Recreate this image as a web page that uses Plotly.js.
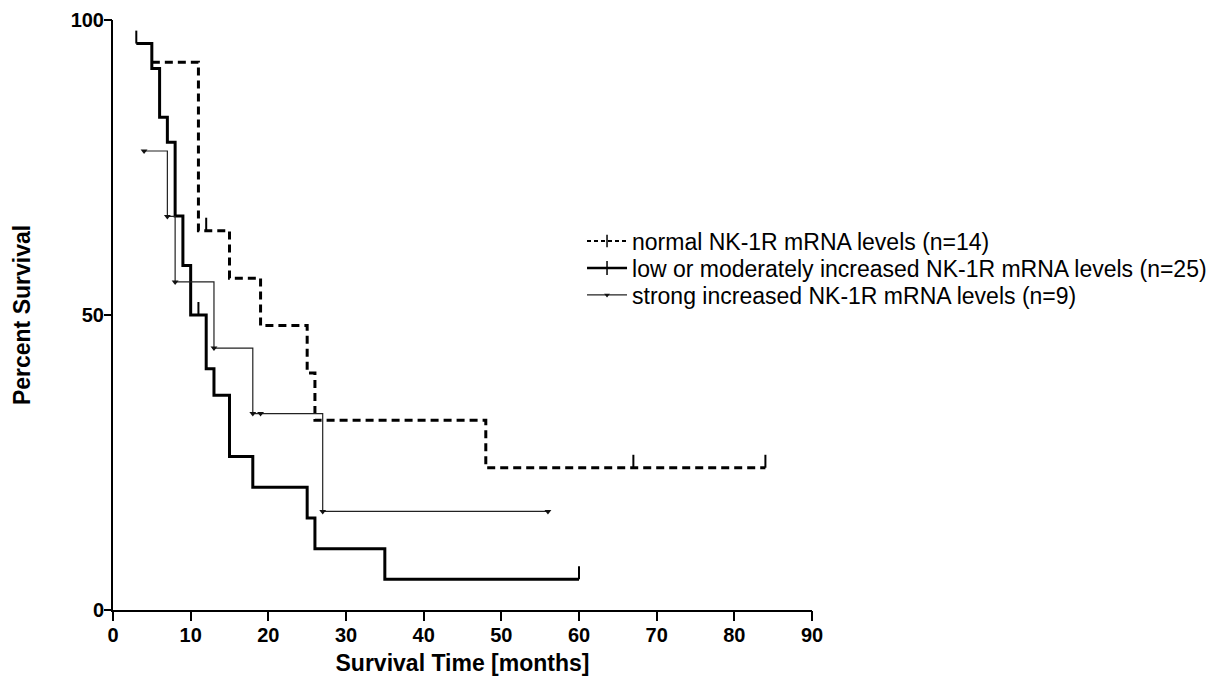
<!DOCTYPE html>
<html>
<head>
<meta charset="utf-8">
<script src="https://cdn.plot.ly/plotly-3.0.1.min.js"></script>
<style>html,body{margin:0;padding:0;background:#fff;}#chart{width:1225px;height:688px;}</style>
</head>
<body>
<div id="chart"></div>
<script>
// Normal NK-1R mRNA levels (n=14)
const normalTime = [5, 11, 15, 19, 25, 26, 48, 84];
const normalSurv = [92.86, 64.29, 56.25, 48.21, 40.18, 32.14, 24.11, 24.11];
const normalCensorTime = [12, 67, 84];
const normalCensorSurv = [64.29, 24.11, 24.11];

// Low or moderately increased NK-1R mRNA levels (n=25)
const lowTime = [3, 5, 6, 7, 8, 9, 10, 12, 13, 15, 18, 25, 26, 35, 60];
const lowSurv = [96.0, 91.8, 83.5, 79.3, 66.8, 58.4, 50.0, 40.9, 36.4, 26.0, 20.8, 15.6, 10.4, 5.2, 5.2];
const lowCensorTime = [3, 11, 60];
const lowCensorSurv = [96.0, 50.0, 5.2];

// Strong increased NK-1R mRNA levels (n=9)
const strongTime = [4, 7, 8, 13, 18, 27, 56];
const strongSurv = [77.8, 66.7, 55.6, 44.4, 33.3, 16.7, 16.7];
const strongSymbolTime = [4, 7, 8, 13, 18, 19, 27, 56];
const strongSymbolSurv = [77.8, 66.7, 55.6, 44.4, 33.3, 33.3, 16.7, 16.7];

const seriesNames = [
  'normal NK-1R mRNA levels (n=14)',
  'low or moderately increased NK-1R mRNA levels (n=25)',
  'strong increased NK-1R mRNA levels (n=9)'
];

const xTickVals = [0, 10, 20, 30, 40, 50, 60, 70, 80, 90];
const yTickVals = [0, 50, 100];
const yTickText = ['0', '50', '100'];

const TICK_H = 2.2; // censor tick height in % units (style)

function censorTicks(ts, ss) {
  const x = [], y = [];
  ts.forEach((t, i) => { x.push(t, t, null); y.push(ss[i], ss[i] + TICK_H, null); });
  return {x, y};
}

const nT = censorTicks(normalCensorTime, normalCensorSurv);
const lT = censorTicks(lowCensorTime, lowCensorSurv);

const traces = [
  {x: normalTime, y: normalSurv, mode: 'lines', line: {shape: 'hv', color: '#000', width: 3, dash: '8px,5px'}, showlegend: false, hoverinfo: 'skip'},
  {x: nT.x, y: nT.y, mode: 'lines', line: {color: '#000', width: 2}, showlegend: false, hoverinfo: 'skip'},
  {x: lowTime, y: lowSurv, mode: 'lines', line: {shape: 'hv', color: '#000', width: 3}, showlegend: false, hoverinfo: 'skip'},
  {x: lT.x, y: lT.y, mode: 'lines', line: {color: '#000', width: 2}, showlegend: false, hoverinfo: 'skip'},
  {x: strongTime, y: strongSurv, mode: 'lines', line: {shape: 'hv', color: '#222', width: 1.2}, showlegend: false, hoverinfo: 'skip'},
  {x: strongSymbolTime, y: strongSymbolSurv, mode: 'markers', marker: {symbol: 'triangle-down', size: 6, color: '#111'}, showlegend: false, hoverinfo: 'skip'},
  // invisible trace that keeps the tick-mark overlay axes alive
  {x: [null], y: [null], xaxis: 'x2', yaxis: 'y2', mode: 'lines', showlegend: false, hoverinfo: 'skip'},
  // legend entries (one legend per row for exact row spacing)
  {x: [null], y: [null], name: seriesNames[0], legend: 'legend', mode: 'lines+markers', line: {color: '#000', width: 2, dash: '4px,3px'}, marker: {symbol: 'line-ns-open', size: 9, line: {width: 1.5, color: '#000'}}},
  {x: [null], y: [null], name: seriesNames[1], legend: 'legend2', mode: 'lines+markers', line: {color: '#000', width: 2.5}, marker: {symbol: 'line-ns-open', size: 10, line: {width: 1.5, color: '#000'}}},
  {x: [null], y: [null], name: seriesNames[2], legend: 'legend3', mode: 'lines+markers', line: {color: '#222', width: 1.2}, marker: {symbol: 'triangle-down', size: 5, color: '#111'}}
];

const boldFam = '"Liberation Sans", Arial, sans-serif';
const legendFont = {family: '"Liberation Sans", Arial, sans-serif', size: 23, color: '#000'};
function legendBox(yPaper) {
  return {x: 0.671, y: yPaper, xanchor: 'left', yanchor: 'middle', font: legendFont,
          bgcolor: 'rgba(0,0,0,0)', borderwidth: 0, itemwidth: 40};
}

const layout = {
  width: 1225, height: 688,
  margin: {l: 113, r: 413, t: 20, b: 78, pad: 0},
  paper_bgcolor: '#fff', plot_bgcolor: '#fff',
  showlegend: true,
  legend: legendBox(0.6254),
  legend2: legendBox(0.5797),
  legend3: legendBox(0.5339),
  // label axes: short ticks so labels sit close to the axis line
  xaxis: {
    range: [0, 90], tickvals: xTickVals,
    showgrid: false, zeroline: false, showline: true, linecolor: '#000', linewidth: 2,
    ticks: 'outside', ticklen: 6, tickwidth: 2, tickcolor: '#000',
    tickfont: {family: boldFam, size: 20, color: '#000', weight: 'bold'},
    title: {text: 'Survival Time [months]', font: {family: boldFam, size: 23, color: '#000', weight: 'bold'}, standoff: 10},
    automargin: false, fixedrange: true
  },
  yaxis: {
    range: [0, 100], tickvals: yTickVals, ticktext: yTickText,
    showgrid: false, zeroline: false, showline: true, linecolor: '#000', linewidth: 2,
    ticks: 'outside', ticklen: 3, tickwidth: 2, tickcolor: '#000',
    tickfont: {family: boldFam, size: 20, color: '#000', weight: 'bold'},
    title: {text: 'Percent Survival', font: {family: boldFam, size: 23, color: '#000', weight: 'bold'}, standoff: 34},
    automargin: false, fixedrange: true
  },
  // overlay axes: full-length tick marks only
  xaxis2: {
    overlaying: 'x', anchor: 'y2', side: 'bottom', range: [0, 90], tickvals: xTickVals,
    showgrid: false, zeroline: false, showline: false, showticklabels: false,
    ticks: 'outside', ticklen: 10, tickwidth: 2, tickcolor: '#000', fixedrange: true
  },
  yaxis2: {
    overlaying: 'y', anchor: 'x2', side: 'left', range: [0, 100], tickvals: yTickVals,
    showgrid: false, zeroline: false, showline: false, showticklabels: false,
    ticks: 'outside', ticklen: 8, tickwidth: 2, tickcolor: '#000', fixedrange: true
  }
};

Plotly.newPlot('chart', traces, layout, {staticPlot: true, displayModeBar: false});
</script>
</body>
</html>
